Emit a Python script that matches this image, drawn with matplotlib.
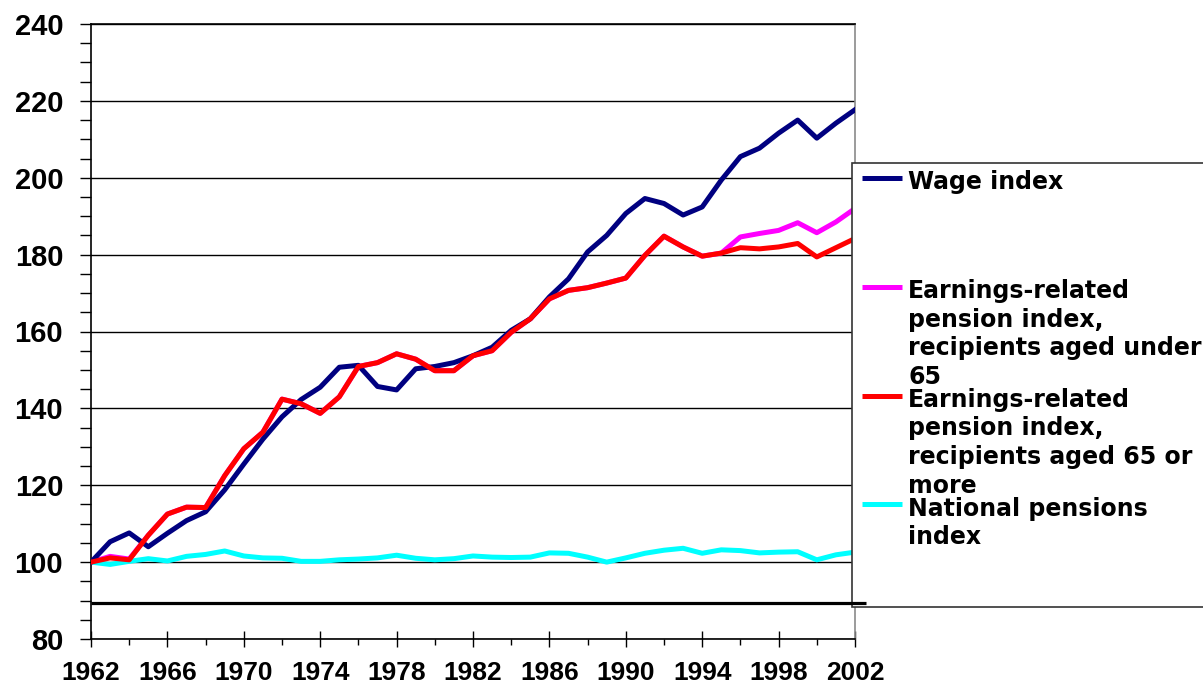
import matplotlib.pyplot as plt
from matplotlib.patches import Rectangle
from matplotlib.ticker import MultipleLocator, FixedLocator

# Data (index, 1962 = 100)
years = list(range(1962, 2003))
wage = [100, 105.3, 107.6, 104.0, 107.5, 110.8, 113.1, 118.8, 125.5, 132.0,
        137.8, 142.3, 145.5, 150.7, 151.2, 145.7, 144.8, 150.3, 150.9,
        151.9, 153.7, 155.9, 160.3, 163.3, 169.0, 173.7, 180.7, 185.0, 190.7,
        194.6, 193.3, 190.3, 192.4, 199.4, 205.5, 207.7, 211.6, 215.0, 210.3,
        214.2, 217.7]
pens_under65 = [100, 101.5, 100.8, 107.0, 112.5, 114.3, 114.2, 122.5, 129.5, 133.8,
                142.4, 141.2, 138.7, 143.0, 150.9, 151.9, 154.2, 152.8, 149.8,
                149.8, 153.7, 155.0, 159.8, 163.3, 168.5, 170.7, 171.4, 172.6, 173.9,
                179.8, 184.8, 182.0, 179.6, 180.4, 184.6, 185.5, 186.3, 188.3, 185.7,
                188.5, 192.0]
pens_65plus = [100, 101.1, 100.6, 107.0, 112.5, 114.3, 114.2, 122.5, 129.5, 133.8,
               142.4, 141.2, 138.7, 143.0, 150.9, 151.9, 154.2, 152.8, 149.8,
               149.8, 153.7, 155.0, 159.8, 163.3, 168.5, 170.7, 171.4, 172.6, 173.9,
               179.8, 184.8, 182.0, 179.6, 180.4, 181.8, 181.5, 182.0, 182.9, 179.4,
               181.8, 184.2]
national = [100, 99.4, 100.2, 100.9, 100.3, 101.5, 102.0, 102.9, 101.6, 101.1,
            101.0, 100.2, 100.2, 100.6, 100.8, 101.1, 101.8, 101.0, 100.6, 100.9,
            101.6, 101.3, 101.2, 101.3, 102.4, 102.3, 101.3, 100.0, 101.1, 102.3,
            103.1, 103.6, 102.3, 103.2, 103.0, 102.4, 102.6, 102.7, 100.6, 101.9,
            102.6]
ref_level = 89.3
year_ticks = list(range(1962, 2003, 4))

series = [
    ('Wage index', wage, '#000080'),
    ('Earnings-related\npension index,\nrecipients aged under\n65', pens_under65, '#FF00FF'),
    ('Earnings-related\npension index,\nrecipients aged 65 or\nmore', pens_65plus, '#FF0000'),
    ('National pensions\nindex', national, '#00FFFF'),
]

W, H = 1203, 687
fig = plt.figure(figsize=(W / 100, H / 100), dpi=100)
ax = fig.add_axes([91 / W, (H - 639) / H, (855 - 91) / W, (639 - 24) / H])

# magenta under red, like the original
ax.plot(years, pens_under65, color='#FF00FF', lw=3.6, zorder=3)
ax.plot(years, pens_65plus, color='#FF0000', lw=3.6, zorder=4)
ax.plot(years, wage, color='#000080', lw=3.6, zorder=3.5)
ax.plot(years, national, color='#00FFFF', lw=3.6, zorder=3)

# thick black reference line, running a bit past the plot area
ax.plot([1962, 2002.58], [ref_level, ref_level], color='black', lw=2.3,
        clip_on=False, zorder=7, solid_capstyle='butt')

ax.set_xlim(1962, 2002)
ax.set_ylim(80, 240)
ax.xaxis.set_major_locator(FixedLocator(year_ticks))
ax.xaxis.set_minor_locator(FixedLocator(years[::2]))
ax.yaxis.set_major_locator(MultipleLocator(20))
ax.yaxis.set_minor_locator(MultipleLocator(5))
ax.grid(axis='y', which='major', color='black', lw=1.0)
ax.set_axisbelow(True)

ax.tick_params(axis='x', which='major', direction='inout', length=11, width=1, pad=10)
ax.tick_params(axis='x', which='minor', direction='out', length=4, width=1)
ax.tick_params(axis='y', which='both', direction='out', length=8, width=1, pad=12)
for lab in ax.get_xticklabels():
    lab.set_family('Liberation Sans')
    lab.set_fontsize(19)
    lab.set_fontweight('bold')
for lab in ax.get_yticklabels():
    lab.set_family('Liberation Sans')
    lab.set_fontsize(21)
    lab.set_fontweight('bold')

for s in ['left', 'bottom', 'top']:
    ax.spines[s].set_color('black')
    ax.spines[s].set_linewidth(1.2)
ax.spines['right'].set_color('#8a8a8a')
ax.spines['right'].set_linewidth(1.2)


def fx(px):
    return px / W


def fy(py):
    return 1 - py / H


# legend box drawn by hand (Excel-style fixed slots)
box = Rectangle((fx(852), fy(607)), fx(1215 - 852), (607 - 163) / H,
                transform=fig.transFigure, facecolor='white', edgecolor='#333333',
                lw=1.2, clip_on=False, zorder=6)
ax.add_patch(box)

for i, (label, vals, col) in enumerate(series):
    base = 189.3 + 108.8 * i
    ax.plot([fx(862), fx(902)], [fy(base - 11.3)] * 2, color=col, lw=3.6,
            transform=fig.transFigure, clip_on=False, zorder=6.5,
            solid_capstyle='butt')
    for j, line in enumerate(label.split('\n')):
        ax.text(fx(908), fy(base + 28.6 * j), line, transform=fig.transFigure,
                ha='left', va='baseline', fontsize=17, fontweight='bold',
                family='DejaVu Sans', zorder=6.5, clip_on=False)

fig.savefig('out.png', dpi=100)
